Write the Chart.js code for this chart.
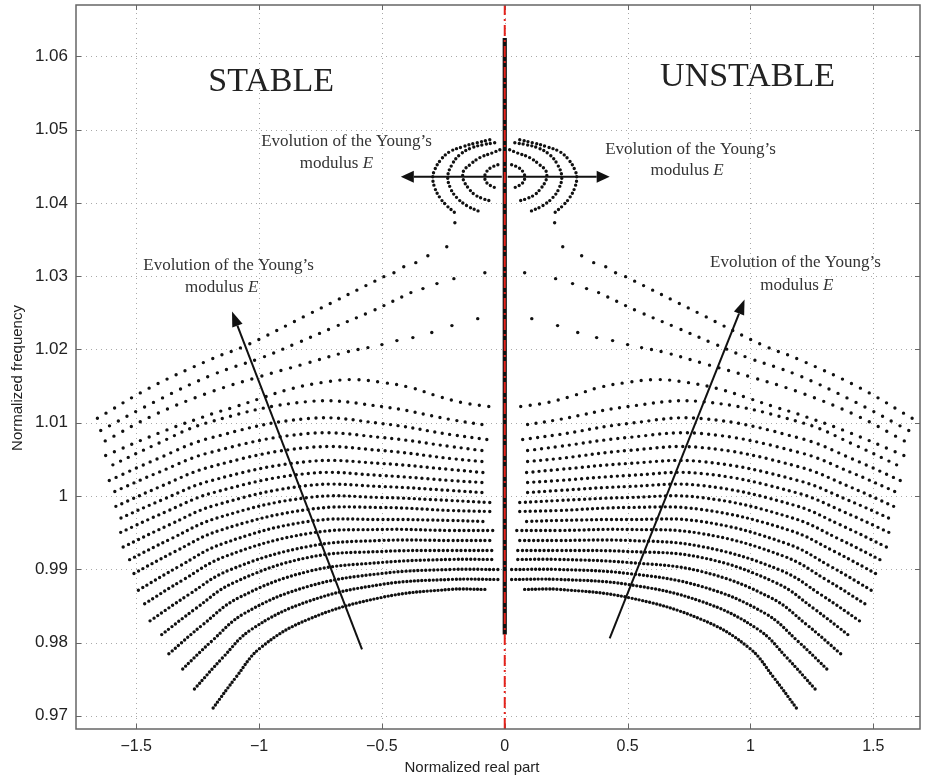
<!DOCTYPE html>
<html>
<head>
<meta charset="utf-8">
<script src="https://cdn.jsdelivr.net/npm/chart.js@4.4.1/dist/chart.umd.min.js"></script>
<style>
html, body { margin: 0; padding: 0; background: #fff; }
#wrap { width: 925px; height: 779px; }
</style>
</head>
<body>
<div id="wrap"><canvas id="chart" width="925" height="779"></canvas></div>
<script>
// axes
const xMin = -1.745, xMax = 1.69
const yMin = 0.9682, yMax = 1.067
const xTicks = [-1.5, -1, -0.5, 0, 0.5, 1, 1.5]
const xTickLabels = ['\u22121.5', '\u22121', '\u22120.5', '0', '0.5', '1', '1.5']
const yTicks = [0.97, 0.98, 0.99, 1, 1.01, 1.02, 1.03, 1.04, 1.05, 1.06]
const yTickLabels = ['0.97', '0.98', '0.99', '1', '1.01', '1.02', '1.03', '1.04', '1.05', '1.06']

// unstable half (real part > 0); the stable half is its mirror image
// upper loci coming down from the loops
const leadA = [[0.203,1.03729],[0.236,1.03402],[0.313,1.03279],[0.362,1.03184],[0.411,1.03129],[0.451,1.03047]]
const lineA = [[0.492,1.02993],[0.793,1.02489],[1.045,1.02066],[1.199,1.01861],[1.443,1.01479],[1.667,1.01043]]
const leadB = [[0.081,1.03047],[0.207,1.02966],[0.276,1.02898],[0.333,1.02830]]
const lineB = [[0.382,1.02775],[0.545,1.02516],[0.699,1.02298],[0.841,1.02093],[0.988,1.01889],[1.187,1.01657],[1.423,1.01288],[1.659,1.00866]]
const leadC = [[0.110,1.02420],[0.215,1.02325],[0.297,1.02230],[0.374,1.02161],[0.439,1.02120],[0.5,1.02066]]
const lineC = [[0.557,1.02025],[0.654,1.01957],[0.825,1.01793],[0.996,1.01629],[1.191,1.01425],[1.423,1.01111],[1.646,1.00716]]
const lineD = [[0.065,1.0122],[0.175,1.01275],[0.28,1.0137],[0.382,1.01479],[0.496,1.01548],[0.622,1.01588],[0.744,1.01548],[0.866,1.01466],[0.984,1.01343],[1.106,1.01207],[1.187,1.01125],[1.402,1.00866],[1.634,1.00538]]

// lower branches, top to bottom
const e01 = [[0.093,1.00975],[0.22,1.01043],[0.5,1.0122],[0.8,1.01288],[1.213,1.00997],[1.42,1.00703],[1.626,1.00375]]
const e02 = [[0.073,1.0077],[0.22,1.00838],[0.5,1.00988],[0.8,1.01057],[1.209,1.00781],[1.414,1.00507],[1.618,1.00198]]
const e03 = [[0.093,1.0062],[0.22,1.00675],[0.5,1.00798],[0.8,1.00852],[1.203,1.0059],[1.405,1.00328],[1.606,1.00034]]
const e04 = [[0.093,1.0047],[0.22,1.00511],[0.5,1.0062],[0.8,1.00661],[1.197,1.00399],[1.395,1.00138],[1.593,0.99843]]
const e05 = [[0.089,1.0032],[0.22,1.00361],[0.5,1.00443],[0.8,1.0047],[1.193,1.00212],[1.389,0.99955],[1.585,0.99666]]
const e06 = [[0.093,1.00184],[0.22,1.00211],[0.5,1.00279],[0.8,1.00307],[1.187,1.00045],[1.38,0.99783],[1.573,0.99488]]
const e07 = [[0.093,1.00047],[0.22,1.00075],[0.5,1.00129],[0.8,1.00143],[1.179,0.99873],[1.368,0.99602],[1.557,0.99297]]
const e08 = [[0.061,0.99911],[0.22,0.99938],[0.5,0.99979],[0.8,0.99979],[1.171,0.997],[1.356,0.9942],[1.541,0.99107]]
const e09 = [[0.061,0.99788],[0.22,0.99802],[0.5,0.99843],[0.8,0.99816],[1.162,0.99528],[1.343,0.9924],[1.524,0.98916]]
const e10 = [[0.089,0.99652],[0.22,0.99666],[0.5,0.99679],[0.8,0.99652],[1.15,0.99347],[1.325,0.99041],[1.5,0.98697]]
const e11 = [[0.049,0.99529],[0.22,0.99529],[0.5,0.99543],[0.8,0.99488],[1.138,0.99175],[1.307,0.9886],[1.476,0.98507]]
const e12 = [[0.061,0.99393],[0.22,0.99393],[0.5,0.99393],[0.8,0.99311],[1.124,0.98984],[1.285,0.98657],[1.447,0.98288]]
const e13 = [[0.053,0.99256],[0.22,0.99256],[0.5,0.99243],[0.8,0.99161],[1.106,0.98812],[1.258,0.98463],[1.411,0.9807]]
const e14 = [[0.053,0.99134],[0.22,0.99134],[0.5,0.99093],[0.8,0.9897],[1.085,0.98607],[1.228,0.98246],[1.37,0.97838]]
const e15 = [[0.028,0.98997],[0.22,0.98997],[0.5,0.98943],[0.8,0.98766],[1.061,0.98395],[1.191,0.98024],[1.321,0.97606]]
const e16 = [[0.028,0.98861],[0.22,0.98861],[0.5,0.98793],[0.8,0.98561],[1.032,0.98177],[1.148,0.97793],[1.264,0.97361]]
const e17 = [[0.081,0.98725],[0.22,0.98725],[0.5,0.98616],[0.8,0.98316],[0.996,0.97923],[1.093,0.9753],[1.191,0.97088]]

// small loops near 1.044
const arc1 = [[0.028,1.0452],[0.057,1.0448],[0.077,1.04411],[0.081,1.04357],[0.077,1.04289],[0.057,1.04234],[0.028,1.04193]]
const arc2 = [[0.02,1.04725],[0.049,1.04684],[0.102,1.04616],[0.142,1.0452],[0.167,1.04439],[0.171,1.04357],[0.163,1.04275],[0.146,1.04193],[0.122,1.04111],[0.089,1.04057],[0.061,1.04029]]
const arc3 = [[0.041,1.0482],[0.089,1.04793],[0.134,1.04752],[0.183,1.04657],[0.215,1.0452],[0.232,1.04357],[0.22,1.04193],[0.195,1.0407],[0.154,1.03961],[0.102,1.0388]]
const arc4 = [[0.061,1.04861],[0.114,1.0482],[0.171,1.04766],[0.224,1.04698],[0.26,1.04589],[0.285,1.04452],[0.293,1.04343],[0.285,1.04207],[0.264,1.0407],[0.236,1.03961],[0.203,1.03866]]

// eigenvalues sitting on the imaginary axis
const zeroAxisFreq = [0.9811, 1.0625]

// annotations (data coordinates)
const arrowTails = [[-0.581,0.97906],[0.427,0.98057],[0.012,1.04357],[-0.012,1.04357]]
const arrowTips  = [[-1.110,1.02516],[0.976,1.02680],[0.427,1.04357],[-0.423,1.04357]]
const headings = ['STABLE', 'UNSTABLE']
const headingPos = [[-0.951,1.0565],[0.988,1.0571]]
const captionPos1 = [[-0.644,1.04834],[0.756,1.04725],[-1.124,1.03143],[1.183,1.03184]]
const captionPos2 = [[-0.685,1.04534],[0.742,1.04439],[-1.152,1.02843],[1.189,1.0287]]

const branches = [lineA, lineB, lineC, lineD, e01, e02, e03, e04, e05, e06, e07, e08, e09, e10, e11, e12, e13, e14, e15, e16, e17]
const branchGap = [10, 10, 10, 9.5, 8.5, 7.5, 7, 6.5, 6.2, 6, 5.7, 5.4, 5.2, 5, 4.8, 4.6, 4.4, 4.2, 4, 3.8, 3.6]
const loops = [arc1, arc2, arc3, arc4]
const leads = [leadA, leadB, leadC]

const toXY = (pts, s) => pts.map(([x, y]) => ({x: s * x, y: y}))

function dottedSet(pts, gap, s) {
    return {
        data: toXY(pts, s),
        showLine: true,
        borderColor: '#111',
        borderWidth: 3.4,
        borderDash: [0, gap],
        borderCapStyle: 'round',
        tension: 0.4,
        pointRadius: 0,
        order: 3
    }
}

let datasets = []
// red dash-dot imaginary axis
datasets.push({
    data: [{x: 0, y: yMin}, {x: 0, y: yMax}],
    showLine: true, borderColor: '#e3231c', borderWidth: 2,
    borderDash: [11, 4, 2, 4], pointRadius: 0, order: 0
})
datasets.push({
    data: [{x: 0, y: zeroAxisFreq[0]}, {x: 0, y: zeroAxisFreq[1]}],
    showLine: true, borderColor: '#111', borderWidth: 4.2, pointRadius: 0, order: 1
})
;[1, -1].forEach(s => {
    branches.forEach((b, i) => datasets.push(dottedSet(b, branchGap[i], s)))
    loops.forEach(l => datasets.push(dottedSet(l, 4.3, s)))
    leads.forEach(l => datasets.push({
        data: toXY(l, s), pointRadius: 1.7, pointBorderWidth: 0,
        pointBackgroundColor: '#111', showLine: false, order: 3
    }))
})

function arrow(ctx, x0, y0, x1, y1, len, half) {
    const a = Math.atan2(y1 - y0, x1 - x0)
    const bx = x1 - len * Math.cos(a), by = y1 - len * Math.sin(a)
    ctx.beginPath(); ctx.moveTo(x0, y0); ctx.lineTo(bx, by); ctx.stroke()
    ctx.beginPath(); ctx.moveTo(x1, y1)
    ctx.lineTo(bx + half * Math.sin(a), by - half * Math.cos(a))
    ctx.lineTo(bx - half * Math.sin(a), by + half * Math.cos(a))
    ctx.closePath(); ctx.fill()
}

const decor = {
    id: 'decor',
    beforeDatasetsDraw(chart) {
        const {ctx, chartArea: a, scales: {x, y}} = chart
        ctx.save()
        ctx.strokeStyle = '#a9a9a9'
        ctx.lineWidth = 1
        ctx.setLineDash([1, 4])
        xTicks.forEach(v => {
            const p = Math.round(x.getPixelForValue(v)) + 0.5
            ctx.beginPath(); ctx.moveTo(p, a.bottom); ctx.lineTo(p, a.top); ctx.stroke()
        })
        yTicks.forEach(v => {
            const p = Math.round(y.getPixelForValue(v)) + 0.5
            ctx.beginPath(); ctx.moveTo(a.left, p); ctx.lineTo(a.right, p); ctx.stroke()
        })
        ctx.setLineDash([])
        ctx.strokeStyle = '#666'
        xTicks.forEach(v => {
            const p = Math.round(x.getPixelForValue(v)) + 0.5
            ctx.beginPath(); ctx.moveTo(p, a.bottom); ctx.lineTo(p, a.bottom - 5); ctx.stroke()
            ctx.beginPath(); ctx.moveTo(p, a.top); ctx.lineTo(p, a.top + 5); ctx.stroke()
        })
        yTicks.forEach(v => {
            const p = Math.round(y.getPixelForValue(v)) + 0.5
            ctx.beginPath(); ctx.moveTo(a.left, p); ctx.lineTo(a.left + 5, p); ctx.stroke()
            ctx.beginPath(); ctx.moveTo(a.right, p); ctx.lineTo(a.right - 5, p); ctx.stroke()
        })
        ctx.restore()
    },
    afterDatasetsDraw(chart) {
        const {ctx, chartArea: a, scales: {x, y}} = chart
        ctx.save()
        // arrows
        ctx.strokeStyle = '#111'
        ctx.fillStyle = '#111'
        ctx.lineWidth = 2
        arrowTails.forEach((t, i) => {
            const h = arrowTips[i]
            const big = i < 2
            arrow(ctx, x.getPixelForValue(t[0]), y.getPixelForValue(t[1]),
                x.getPixelForValue(h[0]), y.getPixelForValue(h[1]), big ? 15 : 13, big ? 5.5 : 6)
        })
        // headings
        ctx.textAlign = 'center'
        ctx.textBaseline = 'middle'
        ctx.fillStyle = '#222'
        ctx.font = '34px "Liberation Serif"'
        headings.forEach((t, i) => {
            ctx.fillText(t, x.getPixelForValue(headingPos[i][0]), y.getPixelForValue(headingPos[i][1]))
        })
        // captions
        ctx.fillStyle = '#333'
        captionPos1.forEach((p, i) => {
            ctx.font = '17px "Liberation Serif"'
            ctx.textAlign = 'center'
            ctx.fillText('Evolution of the Young\u2019s', x.getPixelForValue(p[0]), y.getPixelForValue(p[1]))
            const q = captionPos2[i]
            const w1 = ctx.measureText('modulus ').width
            ctx.font = 'italic 17px "Liberation Serif"'
            const w2 = ctx.measureText('E').width
            const cx = x.getPixelForValue(q[0]) - (w1 + w2) / 2
            const cy = y.getPixelForValue(q[1])
            ctx.textAlign = 'left'
            ctx.font = '17px "Liberation Serif"'
            ctx.fillText('modulus ', cx, cy)
            ctx.font = 'italic 17px "Liberation Serif"'
            ctx.fillText('E', cx + w1, cy)
        })
        // frame
        ctx.strokeStyle = '#666'
        ctx.lineWidth = 1.5
        ctx.strokeRect(a.left, a.top, a.right - a.left, a.bottom - a.top)
        ctx.restore()
    },
    afterDraw(chart) {
        const {ctx} = chart
        ctx.save()
        ctx.fillStyle = '#222'
        ctx.font = '15px "Liberation Sans"'
        ctx.textAlign = 'center'
        ctx.textBaseline = 'middle'
        ctx.fillText('Normalized real part', 472, 768)
        ctx.translate(18, 378)
        ctx.rotate(-Math.PI / 2)
        ctx.fillText('Normalized frequency', 0, 0)
        ctx.restore()
    }
}

const tickFont = {family: 'Liberation Sans', size: 16}

new Chart(document.getElementById('chart'), {
    type: 'scatter',
    data: {datasets: datasets},
    options: {
        responsive: false,
        animation: false,
        devicePixelRatio: 1,
        events: [],
        layout: {padding: {top: 5, right: 5, left: 0, bottom: 0}},
        plugins: {legend: {display: false}, tooltip: {enabled: false}},
        scales: {
            x: {
                type: 'linear', min: xMin, max: xMax,
                grid: {display: false, drawTicks: false},
                border: {display: false},
                afterBuildTicks: s => { s.ticks = xTicks.map(v => ({value: v})) },
                afterFit: s => { s.height = 50; s.paddingLeft = 0; s.paddingRight = 0 },
                ticks: {
                    autoSkip: false, maxRotation: 0, padding: 8,
                    color: '#222', font: tickFont,
                    callback: v => xTickLabels[xTicks.indexOf(v)]
                }
            },
            y: {
                type: 'linear', min: yMin, max: yMax,
                grid: {display: false, drawTicks: false},
                border: {display: false},
                afterBuildTicks: s => { s.ticks = yTicks.map(v => ({value: v})) },
                afterFit: s => { s.width = 76; s.paddingTop = 0; s.paddingBottom = 0 },
                ticks: {
                    autoSkip: false, padding: 8,
                    color: '#222', font: {family: 'Liberation Sans', size: 17},
                    callback: v => yTickLabels[yTicks.indexOf(v)]
                }
            }
        }
    },
    plugins: [decor]
})
</script>
</body>
</html>
